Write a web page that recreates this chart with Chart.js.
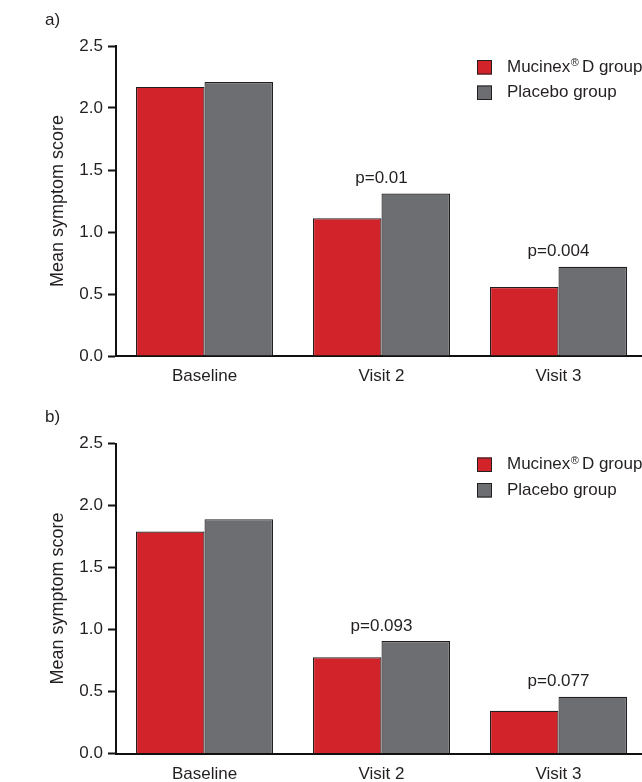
<!DOCTYPE html>
<html>
<head>
<meta charset="utf-8">
<script src="https://cdn.jsdelivr.net/npm/chart.js@4.4.1/dist/chart.umd.min.js"></script>
<style>
  html, body { margin: 0; padding: 0; background: #ffffff; overflow: hidden; width: 642px; height: 782px; }
  .panel { position: absolute; left: 0; }
  canvas { display: block; }
</style>
</head>
<body>
<div class="panel" id="pa" style="top:0px;"><canvas id="chartA" width="647" height="392"></canvas></div>
<div class="panel" id="pb" style="top:392px;"><canvas id="chartB" width="647" height="400"></canvas></div>
<script>
// ---- data ----
const categories = ['Baseline', 'Visit 2', 'Visit 3'];
const seriesLabels = ['Mucinex® D group', 'Placebo group'];
const panelLabels = ['a)', 'b)'];
const yTickValues = [0, 0.5, 1.0, 1.5, 2.0, 2.5];
const yAxisTitle = 'Mean symptom score';

const mucinexA = [2.17, 1.11, 0.556];
const placeboA = [2.21, 1.31, 0.72];
const pValuesA = ['', 'p=0.01', 'p=0.004'];

const mucinexB = [1.79, 0.776, 0.345];
const placeboB = [1.89, 0.907, 0.458];
const pValuesB = ['', 'p=0.093', 'p=0.077'];

// ---- styles ----
const FONT = "'Liberation Sans', Arial, Helvetica, sans-serif";
const TEXT = '#231f20';
const RED = '#d2232a';
const GREY = '#6d6e71';
const EDGE = '#231f20';

Chart.defaults.font.family = FONT;
Chart.defaults.font.size = 17;
Chart.defaults.color = TEXT;

const pLabelPlugin = {
  id: 'pLabels',
  afterDatasetsDraw(chart, args, opts) {
    const {ctx, scales} = chart;
    const labels = opts.labels || [];
    ctx.save();
    ctx.font = '17px ' + FONT;
    ctx.fillStyle = TEXT;
    ctx.textAlign = 'center';
    ctx.textBaseline = 'alphabetic';
    labels.forEach((txt, i) => {
      if (!txt) return;
      const top = Math.max(...chart.data.datasets.map(d => d.data[i]));
      const x = scales.x.getPixelForValue(i);
      const y = scales.y.getPixelForValue(top) - 10.5;
      ctx.fillText(txt, x, y);
    });
    ctx.restore();
  }
};

const customLegend = {
  id: 'customLegend',
  afterDraw(chart) {
    const {ctx, chartArea} = chart;
    ctx.save();
    chart.data.datasets.forEach((ds, i) => {
      const sx = chartArea.left + 361;
      const sy = chartArea.top + 14 + i * 25.5;
      ctx.fillStyle = ds.backgroundColor;
      ctx.fillRect(sx, sy, 15, 14.5);
      ctx.strokeStyle = EDGE;
      ctx.lineWidth = 1;
      ctx.strokeRect(sx + 0.5, sy + 0.5, 14, 13.5);
      const tx = sx + 30;
      const ty = sy + 7;
      ctx.fillStyle = TEXT;
      ctx.textBaseline = 'middle';
      ctx.textAlign = 'left';
      const parts = ds.label.split('®');
      ctx.font = '17px ' + FONT;
      ctx.fillText(parts[0], tx, ty);
      if (parts.length > 1) {
        let x = tx + ctx.measureText(parts[0]).width + 0.5;
        ctx.font = '11px ' + FONT;
        ctx.fillText('®', x, ty - 4);
        x += ctx.measureText('®').width + 3;
        ctx.font = '17px ' + FONT;
        ctx.fillText(parts[1].trim(), x, ty);
      }
    });
    ctx.restore();
  }
};

function makeChart(id, label, mucinex, placebo, pValues, lay) {
  return new Chart(document.getElementById(id), {
    type: 'bar',
    data: {
      labels: categories,
      datasets: [
        { label: seriesLabels[0], data: mucinex, backgroundColor: RED, borderColor: EDGE, borderWidth: 1.2, borderSkipped: 'bottom' },
        { label: seriesLabels[1], data: placebo, backgroundColor: GREY, borderColor: EDGE, borderWidth: 1.2, borderSkipped: 'bottom' }
      ]
    },
    options: {
      responsive: false,
      animation: false,
      events: [],
      layout: { padding: { left: 45, top: lay.padTop, right: 0, bottom: 0 } },
      datasets: { bar: { categoryPercentage: 0.774, barPercentage: 1.0 } },
      plugins: {
        legend: { display: false },
        tooltip: { enabled: false },
        title: {
          display: true, text: label, align: 'start', color: TEXT,
          font: { size: 17, weight: 'normal', family: FONT },
          padding: { top: lay.titleTop, bottom: lay.titleBottom }
        },
        pLabels: { labels: pValues }
      },
      scales: {
        x: {
          grid: { display: false, drawTicks: false },
          border: { display: true, color: '#111111', width: 2 },
          ticks: { padding: 10.5, color: TEXT, font: { size: 17 } },
          afterFit: (s) => { s.height = lay.xHeight; }
        },
        y: {
          min: 0, max: 2.5,
          afterBuildTicks: (s) => { s.ticks = yTickValues.map(v => ({ value: v })); },
          grid: { display: true, drawOnChartArea: false, drawTicks: true, tickLength: 8, tickWidth: 2, tickColor: '#111111' },
          border: { display: true, color: '#111111', width: 2 },
          ticks: { padding: 5, color: TEXT, font: { size: 17 }, callback: (v) => Number(v).toFixed(1) },
          title: { display: true, text: yAxisTitle, color: TEXT, font: { size: 18 }, padding: { top: 2.5, bottom: 0 } },
          afterFit: (s) => { s.width = 71; }
        }
      }
    },
    plugins: [pLabelPlugin, customLegend]
  });
}

makeChart('chartA', panelLabels[0], mucinexA, placeboA, pValuesA, { padTop: 6, titleTop: 3.8, titleBottom: 15.8, xHeight: 36 });
makeChart('chartB', panelLabels[1], mucinexB, placeboB, pValuesB, { padTop: 11, titleTop: 4.1, titleBottom: 16, xHeight: 38.5 });
</script>
</body>
</html>
